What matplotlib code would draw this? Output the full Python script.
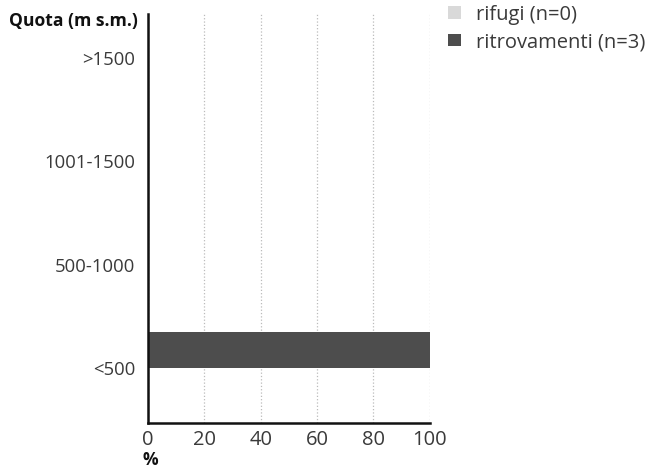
import numpy as np
import matplotlib.pyplot as plt

plt.rcParams['font.family'] = ['Open Sans', 'DejaVu Sans']

quote = ['<500', '500-1000', '1001-1500', '>1500']
rifugi = [0, 0, 0, 0]
ritrovamenti = [100, 0, 0, 0]

fig = plt.figure(figsize=(6.55, 4.70), dpi=100)
ax = fig.add_axes([0.226, 0.1, 0.43, 0.87])

y = np.arange(len(quote))
h = 0.35
ax.barh(y - h / 2, rifugi, height=h, color='#d9d9d9', label='rifugi (n=0)')
ax.barh(y + h / 2, ritrovamenti, height=h, color='#4d4d4d', label='ritrovamenti (n=3)')

ax.set_xlim(0, 100)
ax.set_ylim(-0.53, 3.42)
ax.set_xticks([0, 20, 40, 60, 80, 100])
ax.set_yticks(y)
ax.set_yticklabels(quote)
ax.tick_params(length=0, labelsize=13.3, colors='#3a3a3a', pad=9)
ax.tick_params(axis='x', labelsize=14.5, pad=5)
ax.xaxis.grid(True, color='#bbbbbb', linestyle=':', linewidth=0.9)
ax.set_axisbelow(True)
for s in ['top', 'right']:
    ax.spines[s].set_visible(False)
for s in ['left', 'bottom']:
    ax.spines[s].set_linewidth(1.8)
    ax.spines[s].set_color('#111111')

fig.text(0.211, 0.955, 'Quota (m s.m.)', ha='right', va='center', fontsize=12.6,
         fontweight='bold', color='#111111')
fig.text(0.23, 0.022, '%', ha='center', va='center', fontsize=12.6,
         fontweight='bold', color='#111111')

ax.legend(loc='upper left', bbox_to_anchor=(0.657, 1.028), bbox_transform=fig.transFigure,
          frameon=False, fontsize=14.5, handlelength=0.6, handleheight=0.6,
          handletextpad=0.75, labelspacing=0.35, labelcolor='#3a3a3a')

fig.savefig('out.png', dpi=100)
